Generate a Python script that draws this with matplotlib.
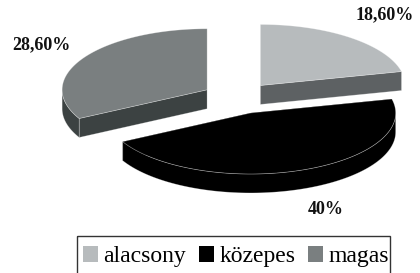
import numpy as np
import matplotlib
matplotlib.use("Agg")
import matplotlib.pyplot as plt
from matplotlib.patches import Polygon, Patch, Rectangle
from matplotlib.font_manager import FontProperties

categories = ["alacsony", "közepes", "magas"]
values = [18.6, 40.0, 28.6]
value_labels = ["18,60%", "40%", "28,60%"]
top_colors = ["#b7bbbd", "#000000", "#7a7f80"]
side_colors = ["#5d6163", "#000000", "#3c4242"]

plt.rcParams['font.family'] = ['Liberation Serif', 'DejaVu Serif']

fig = plt.figure(figsize=(4.2, 2.73), dpi=100)
ax = fig.add_axes([0, 0, 1, 1])
ax.set_xlim(0, 420)
ax.set_ylim(273, 0)
ax.axis('off')

cx, cy = 238.0, 98.0
a, b = 145.0, 61.0
depth = 19.0
ex, ey = 36.0, 16.0

fr = np.array(values) / np.sum(values) * 360.0
starts = np.concatenate([[0], np.cumsum(fr)[:-1]])
ends = starts + fr

def rim(vx, vy, th):
    t = np.radians(th)
    return vx + a * np.sin(t), vy - b * np.cos(t)

label_pos = [(385, 15), (326, 209), (41, 45)]
order = [0, 2, 1]
for i in order:
    s, e = starts[i], ends[i]
    mid = np.radians((s + e) / 2)
    vx = cx + ex * np.sin(mid)
    vy = cy - ey * np.cos(mid)
    ec = (1, 1, 1, 0.35)
    for th in (s, e):
        px, py = rim(vx, vy, th)
        poly = [(vx, vy), (px, py), (px, py + depth), (vx, vy + depth)]
        ax.add_patch(Polygon(poly, closed=True, fc=side_colors[i], ec=ec, lw=0.5))
    lo, hi = max(s, 90), min(e, 270)
    if hi > lo:
        th = np.linspace(lo, hi, 100)
        xs, ys = rim(vx, vy, th)
        pts = list(zip(xs, ys)) + list(zip(xs[::-1], ys[::-1] + depth))
        ax.add_patch(Polygon(pts, closed=True, fc=side_colors[i], ec=ec, lw=0.5))
    th = np.linspace(s, e, 200)
    xs, ys = rim(vx, vy, th)
    pts = [(vx, vy)] + list(zip(xs, ys))
    ax.add_patch(Polygon(pts, closed=True, fc=top_colors[i], ec=ec, lw=0.5))

for i in range(3):
    ax.text(label_pos[i][0], label_pos[i][1], value_labels[i], ha='center', va='center',
            fontsize=13, fontweight='bold', color='#111111')

prop = FontProperties(family=['Liberation Serif', 'DejaVu Serif'], size=17)
handles = [Patch(fc=top_colors[i], ec='none') for i in range(3)]
leg = ax.legend(handles, categories, ncol=3, loc='upper left',
                bbox_to_anchor=(83, 246), bbox_transform=ax.transData,
                prop=prop, frameon=False,
                handlelength=0.64, handleheight=0.64, handletextpad=0.22,
                columnspacing=0.55, borderpad=0.0, borderaxespad=0)
ax.add_patch(Rectangle((77, 236), 313, 60, fc='none', ec='#333333', lw=1.0))

fig.savefig("out.png", dpi=100)
